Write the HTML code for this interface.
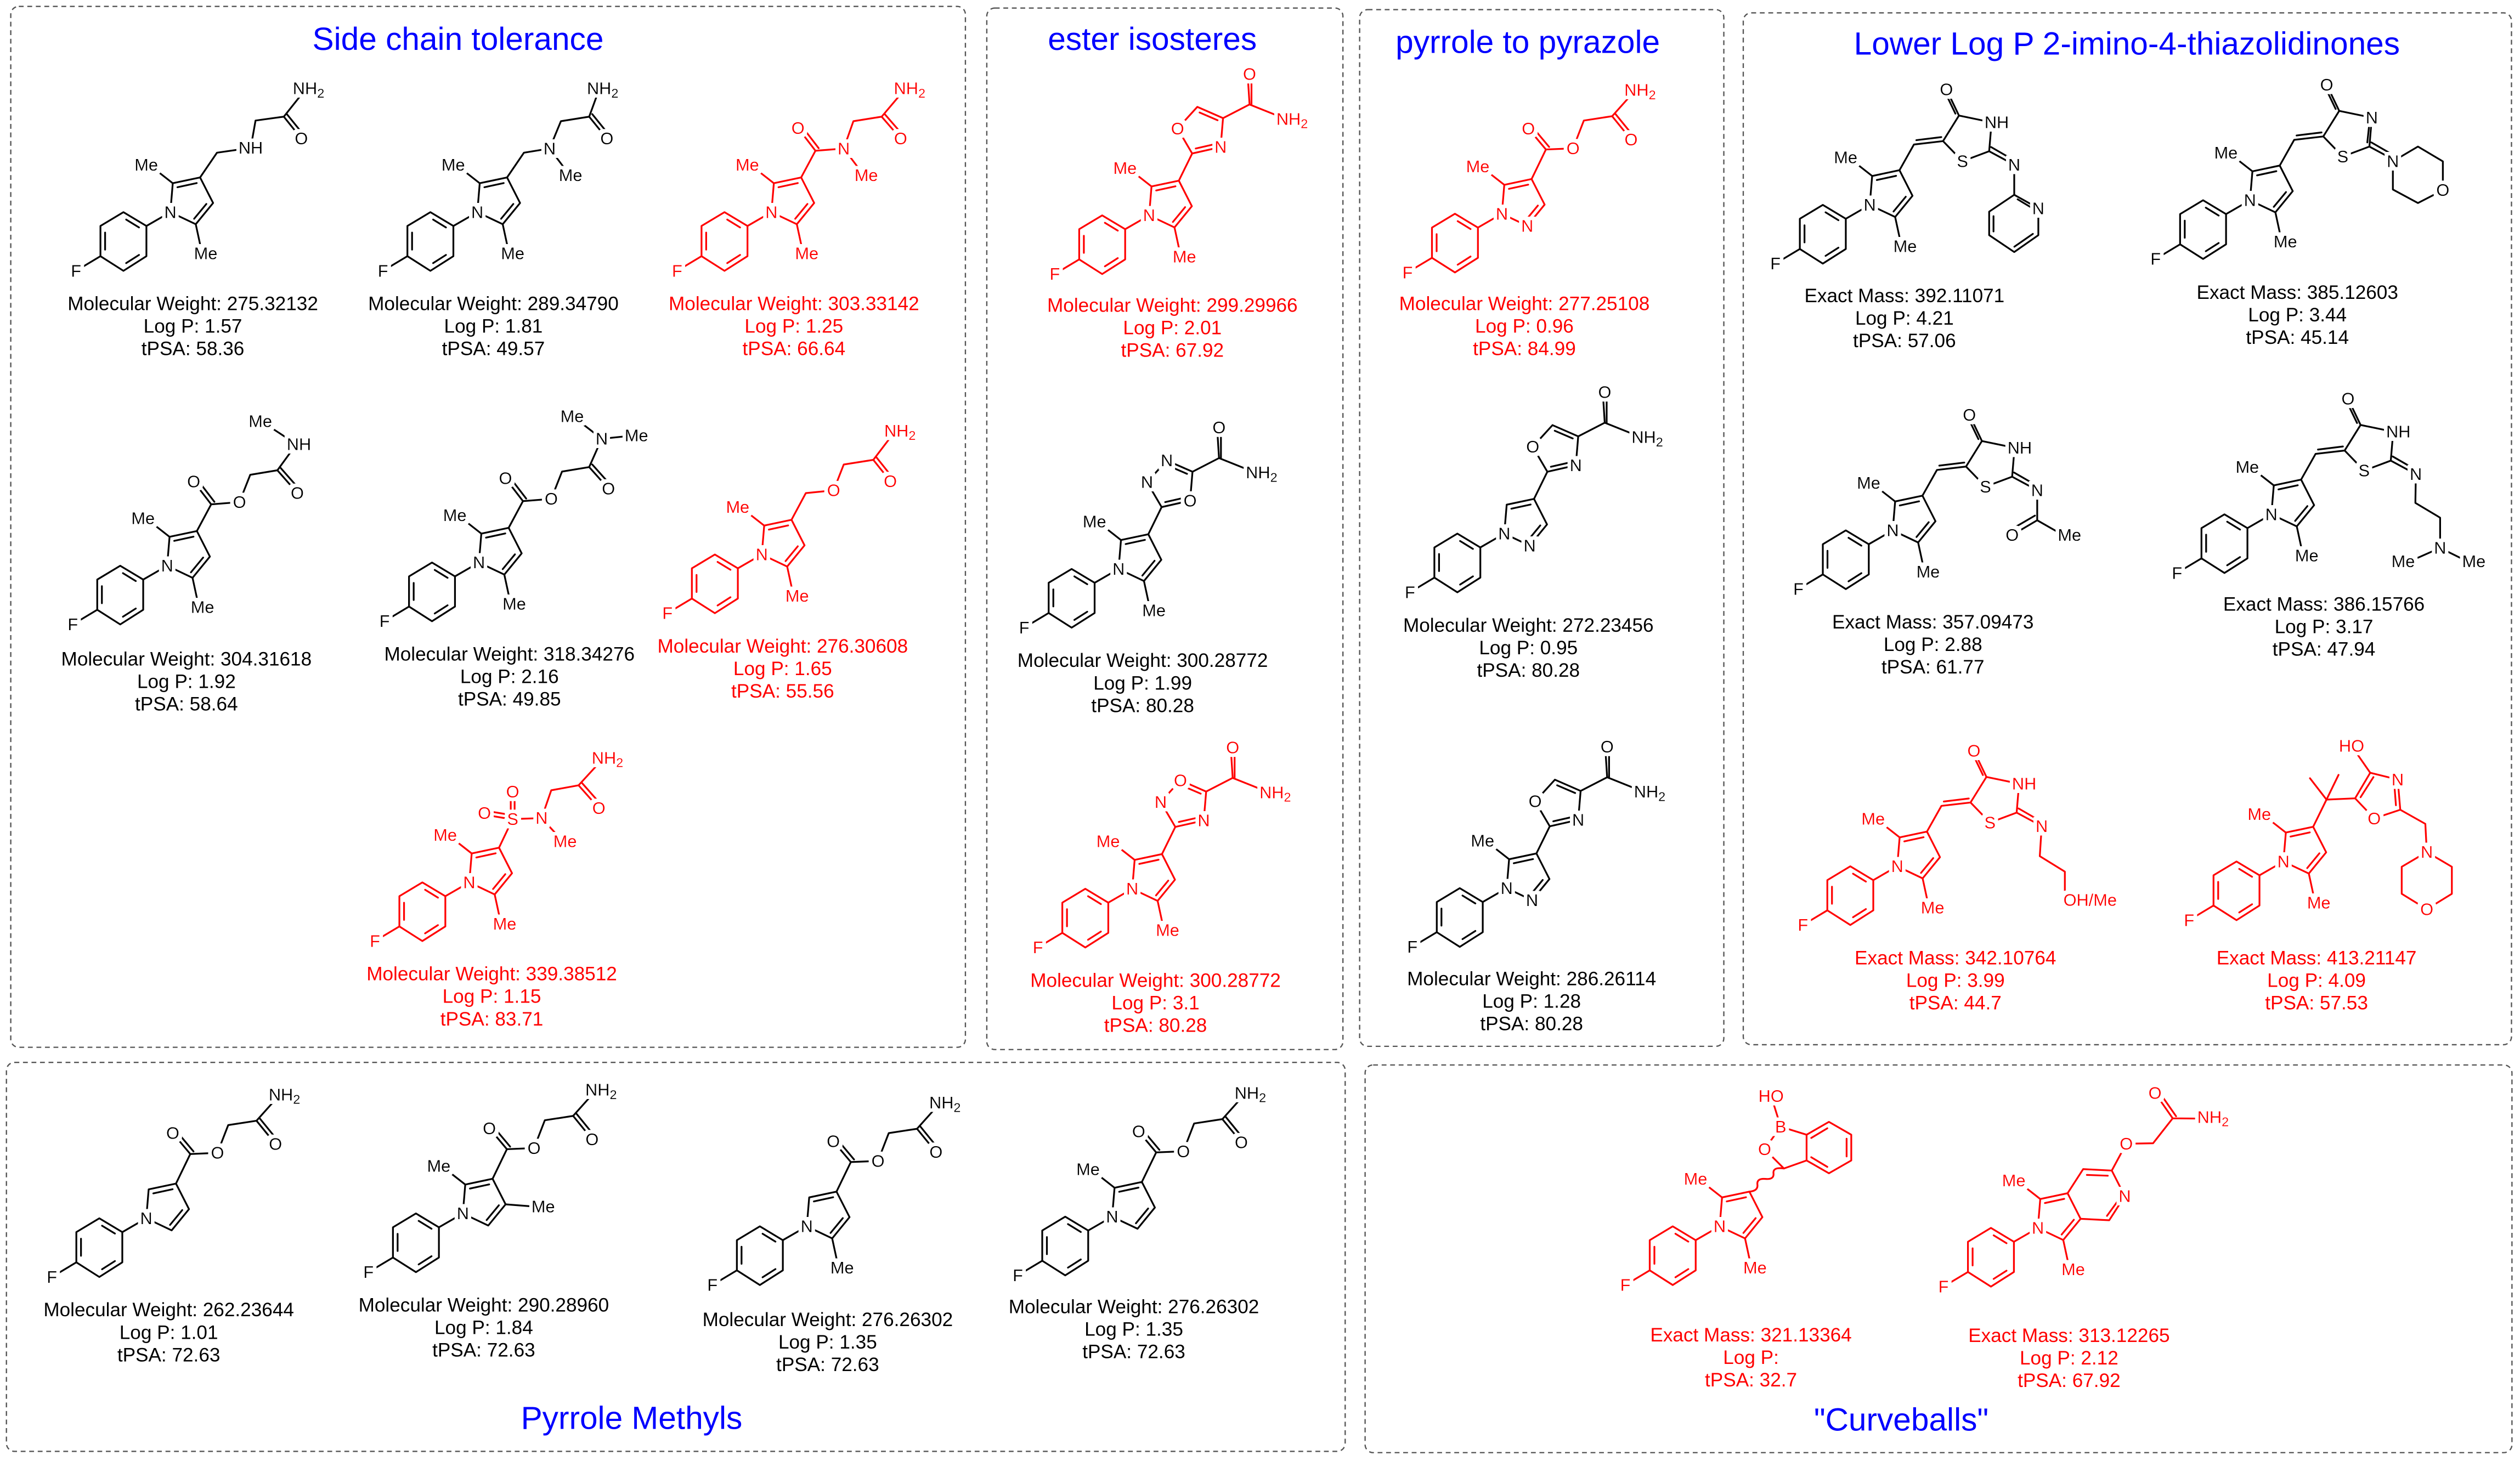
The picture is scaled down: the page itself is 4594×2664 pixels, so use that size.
<!DOCTYPE html>
<html><head><meta charset="utf-8">
<style>
html,body{margin:0;padding:0;background:#fff}
svg{display:block}
svg text{font-family:"Liberation Sans",Arial,sans-serif}
.ln{stroke:currentColor;fill:none;stroke-width:1.1;stroke-linejoin:round;stroke-linecap:round}
.l{font-size:10.5px;fill:currentColor;text-anchor:middle;dominant-baseline:central;filter:url(#bg)}
.d{font-size:12px;fill:currentColor;text-anchor:middle}
.t{font-size:20px;fill:#0000ff;text-anchor:middle}
.bx{fill:none;stroke:#555;stroke-width:0.8;stroke-dasharray:3 2.3}
.k{color:#000}.r{color:#ff0000}
</style></head><body>
<svg width="4594" height="2664" viewBox="0 0 1568 909" preserveAspectRatio="none" xmlns="http://www.w3.org/2000/svg">
<defs>
<filter id="bg" x="-50%" y="-50%" width="200%" height="200%">
<feMorphology in="SourceAlpha" operator="dilate" radius="2.2" result="d"/>
<feFlood flood-color="#fff"/>
<feComposite in2="d" operator="in" result="w"/>
<feMerge><feMergeNode in="w"/><feMergeNode in="SourceGraphic"/></feMerge>
</filter>
<path id="pr" class="ln" d="M0,0 L1.5,-18 L18.5,-21.6 L26.6,-5.7 L15.8,7.5 Z M4.4,-15.5 L16.4,-18.1 M22.4,-5.1 L14.8,4.1 M0,0 L-14.9,8.6 M-14.9,8.6 L-29.2,0 L-43.5,8.6 L-43.5,27.4 L-29.2,36.5 L-14.9,27.4 Z M-19.5,9.5 L-27.5,4.6 M-40.6,12.7 L-40.6,23.3 M-27.5,31.7 L-19.5,26.6 M-43.5,27.4 L-58.7,36.5"/>
<path id="m2" class="ln" d="M1.5,-18 L-10,-27"/>
<path id="m5" class="ln" d="M15.8,7.5 L18.5,20"/>
<path id="m4" class="ln" d="M26.6,-5.7 L42,-4.5"/>
<path id="esN" class="ln" d="M18.5,-21.6 L27.4,-40 L44.3,-40.7 L51,-58 L68.6,-60.7 L82.3,-76 M27.4,-40 L16.5,-53 M29.4,-41.6 L18.5,-54.6 M68.6,-60.7 L80.4,-46.2 M70.5,-62.3 L82.3,-47.8"/>
<path id="ox" class="ln" d="M18.5,-21.6 L26.8,-38.5 M26.8,-38.5 L17.7,-54 L30,-67.5 L46,-60.5 L44.5,-42.5 Z M31.4,-64 L42.6,-59.2 M41.3,-44.4 L29,-41.6 M46,-60.5 L62.5,-69 L61.3,-88 M63.7,-69 L63.7,-88 M62.5,-69 L85,-60"/>
<path id="thz" class="ln" d="M18.5,-21.6 L27.5,-37.6 L45.6,-39.7 L55.5,-55.6 L75.8,-51.4 L74.3,-33.4 L57.7,-27.2 L45.6,-39.7 M29,-40.3 L44.5,-42.2 M55.5,-55.6 L47.7,-71.9 M53.3,-56.8 L45.5,-73 M74.3,-33.4 L89.9,-25 M75.5,-36 L88.5,-28.5"/>
</defs>

<rect class="bx" x="6.7" y="4" width="594" height="647.6" rx="5"/>
<rect class="bx" x="614" y="5" width="221.6" height="648" rx="5"/>
<rect class="bx" x="846" y="6" width="226.6" height="645" rx="5"/>
<rect class="bx" x="1084.7" y="8" width="478" height="642" rx="5"/>
<rect class="bx" x="4" y="661" width="833" height="242" rx="5"/>
<rect class="bx" x="849.4" y="662.6" width="713.6" height="241.2" rx="5"/>

<text class="t" x="285" y="31">Side chain tolerance</text>
<text class="t" x="717" y="31">ester isosteres</text>
<text class="t" x="950.6" y="33">pyrrole to pyrazole</text>
<text class="t" x="1323.4" y="34">Lower Log P 2-imino-4-thiazolidinones</text>
<text class="t" x="393" y="889">Pyrrole Methyls</text>
<text class="t" x="1183" y="890">"Curveballs"</text>

<g class="k" transform="translate(106,132)">
<use href="#pr"/><use href="#m2"/><use href="#m5"/>
<path class="ln" d="M18.5,-21.6 L29,-37 L50,-40 L53,-57 L70.6,-59.4 L83.5,-75.6 M70.6,-59.4 L81.5,-45.8 M72.5,-61 L83.4,-47.5"/>
<text class="l" x="-15" y="-29.5">Me</text><text class="l" x="22" y="25.7">Me</text><text class="l" x="-58.7" y="36.5">F</text><text class="l" x="0" y="0">N</text>
<text class="l" x="50" y="-40">NH</text><text class="l" x="81.5" y="-45.8">O</text><text class="l" x="86" y="-77">NH<tspan font-size="8" dy="3">2</tspan></text>
</g>
<g class="k"><text class="d" x="120" y="193">Molecular Weight: 275.32132</text><text class="d" x="120" y="207">Log P: 1.57</text><text class="d" x="120" y="221">tPSA: 58.36</text></g>

<g class="k" transform="translate(297,132)">
<use href="#pr"/><use href="#m2"/><use href="#m5"/>
<path class="ln" d="M18.5,-21.6 L29,-37 L45,-39.6 L52,-56.6 L69.6,-59.4 L75.5,-75.6 M69.6,-59.4 L80.6,-45.8 M71.5,-61 L82.5,-47.4 M45,-39.6 L56,-25"/>
<text class="l" x="-15" y="-29.5">Me</text><text class="l" x="22" y="25.7">Me</text><text class="l" x="-58.7" y="36.5">F</text><text class="l" x="0" y="0">N</text>
<text class="l" x="45" y="-39.6">N</text><text class="l" x="58" y="-23">Me</text><text class="l" x="80.6" y="-45.8">O</text><text class="l" x="78" y="-77">NH<tspan font-size="8" dy="3">2</tspan></text>
</g>
<g class="k"><text class="d" x="307" y="193">Molecular Weight: 289.34790</text><text class="d" x="307" y="207">Log P: 1.81</text><text class="d" x="307" y="221">tPSA: 49.57</text></g>

<g class="r" transform="translate(480,132)">
<use href="#pr"/><use href="#m2"/><use href="#m5"/>
<path class="ln" d="M18.5,-21.6 L27.4,-38.2 L45,-39.6 L51,-56.6 L68.6,-59.4 L82.3,-75.6 M27.4,-38.2 L16.5,-52.4 M29.4,-39.8 L18.5,-54 M68.6,-59.4 L80.4,-45.8 M70.5,-61 L82.3,-47.4 M45,-39.6 L56,-25"/>
<text class="l" x="-15" y="-29.5">Me</text><text class="l" x="22" y="25.7">Me</text><text class="l" x="-58.7" y="36.5">F</text><text class="l" x="0" y="0">N</text>
<text class="l" x="16.5" y="-52.4">O</text><text class="l" x="45" y="-39.6">N</text><text class="l" x="59" y="-23">Me</text><text class="l" x="80.4" y="-45.8">O</text><text class="l" x="86" y="-77">NH<tspan font-size="8" dy="3">2</tspan></text>
</g>
<g class="r"><text class="d" x="494" y="193">Molecular Weight: 303.33142</text><text class="d" x="494" y="207">Log P: 1.25</text><text class="d" x="494" y="221">tPSA: 66.64</text></g>

<g class="k" transform="translate(104,352)">
<use href="#pr"/><use href="#m2"/><use href="#m5"/>
<path class="ln" d="M18.5,-21.6 L27.4,-38.2 L45,-39.6 L51.7,-56.6 L68.6,-59.4 L80.4,-75.6 L60,-89 M27.4,-38.2 L16.5,-52.4 M29.4,-39.8 L18.5,-54 M68.6,-59.4 L81,-45.3 M70.5,-61 L82.9,-46.9"/>
<text class="l" x="-15" y="-29.5">Me</text><text class="l" x="22" y="25.7">Me</text><text class="l" x="-58.7" y="36.5">F</text><text class="l" x="0" y="0">N</text>
<text class="l" x="16.5" y="-52.4">O</text><text class="l" x="45" y="-39.6">O</text><text class="l" x="81" y="-45.3">O</text><text class="l" x="82" y="-75.6">NH</text><text class="l" x="58" y="-90">Me</text>
</g>
<g class="k"><text class="d" x="116" y="414">Molecular Weight: 304.31618</text><text class="d" x="116" y="428">Log P: 1.92</text><text class="d" x="116" y="442">tPSA: 58.64</text></g>

<g class="k" transform="translate(298,350)">
<use href="#pr"/><use href="#m2"/><use href="#m5"/>
<path class="ln" d="M18.5,-21.6 L27.4,-38.2 L45,-39.6 L51.7,-56.6 L68.6,-59.4 L76.4,-77 L59,-90.5 M76.4,-77 L96,-79 M27.4,-38.2 L16.5,-52.4 M29.4,-39.8 L18.5,-54 M68.6,-59.4 L80.6,-46 M70.5,-61 L82.5,-47.6"/>
<text class="l" x="-15" y="-29.5">Me</text><text class="l" x="22" y="25.7">Me</text><text class="l" x="-58.7" y="36.5">F</text><text class="l" x="0" y="0">N</text>
<text class="l" x="16.5" y="-52.4">O</text><text class="l" x="45" y="-39.6">O</text><text class="l" x="80.6" y="-46">O</text><text class="l" x="76.4" y="-77">N</text><text class="l" x="58" y="-91">Me</text><text class="l" x="98" y="-79">Me</text>
</g>
<g class="k"><text class="d" x="317" y="411">Molecular Weight: 318.34276</text><text class="d" x="317" y="425">Log P: 2.16</text><text class="d" x="317" y="439">tPSA: 49.85</text></g>

<g class="r" transform="translate(474,345)">
<use href="#pr"/><use href="#m2"/><use href="#m5"/>
<path class="ln" d="M18.5,-21.6 L27.4,-38.2 L44.7,-39.9 L51,-56 L69.4,-58.9 L82.3,-75.8 M69.4,-58.9 L80,-45.6 M71.3,-60.5 L81.9,-47.2"/>
<text class="l" x="-15" y="-29.5">Me</text><text class="l" x="22" y="25.7">Me</text><text class="l" x="-58.7" y="36.5">F</text><text class="l" x="0" y="0">N</text>
<text class="l" x="44.7" y="-39.9">O</text><text class="l" x="80" y="-45.6">O</text><text class="l" x="86" y="-77">NH<tspan font-size="8" dy="3">2</tspan></text>
</g>
<g class="r"><text class="d" x="487" y="406">Molecular Weight: 276.30608</text><text class="d" x="487" y="420">Log P: 1.65</text><text class="d" x="487" y="434">tPSA: 55.56</text></g>

<g class="r" transform="translate(292,549)">
<use href="#pr"/><use href="#m2"/><use href="#m5"/>
<path class="ln" d="M18.5,-21.6 L27,-39.4 L45,-40 L51,-57.3 L68,-60.4 L82.7,-76.4 M68,-60.4 L80.6,-46.2 M70,-62 L82.5,-47.8 M25.8,-44 L25.8,-53 M28.2,-44 L28.2,-53 M22,-40 L13,-41.5 M22,-42.6 L13,-44.1 M45,-40 L56,-28"/>
<text class="l" x="-15" y="-29.5">Me</text><text class="l" x="22" y="25.7">Me</text><text class="l" x="-58.7" y="36.5">F</text><text class="l" x="0" y="0">N</text>
<text class="l" x="27" y="-39.4">S</text><text class="l" x="27" y="-56.4">O</text><text class="l" x="9.4" y="-43.1">O</text><text class="l" x="45" y="-40">N</text><text class="l" x="59.6" y="-25.6">Me</text><text class="l" x="80.6" y="-46.2">O</text><text class="l" x="86" y="-77.5">NH<tspan font-size="8" dy="3">2</tspan></text>
</g>
<g class="r"><text class="d" x="306" y="610">Molecular Weight: 339.38512</text><text class="d" x="306" y="624">Log P: 1.15</text><text class="d" x="306" y="638">tPSA: 83.71</text></g>

<g class="k" transform="translate(91,758)">
<use href="#pr"/><use href="#esN"/>
<text class="l" x="-58.7" y="36.5">F</text><text class="l" x="0" y="0">N</text>
<text class="l" x="16.5" y="-53">O</text><text class="l" x="44.3" y="-40.7">O</text><text class="l" x="80.4" y="-46.2">O</text><text class="l" x="86" y="-77">NH<tspan font-size="8" dy="3">2</tspan></text>
</g>
<g class="k"><text class="d" x="105" y="819">Molecular Weight: 262.23644</text><text class="d" x="105" y="833">Log P: 1.01</text><text class="d" x="105" y="847">tPSA: 72.63</text></g>

<g class="k" transform="translate(288,755)">
<use href="#pr"/><use href="#m2"/><use href="#m4"/><use href="#esN"/>
<text class="l" x="-15" y="-29.5">Me</text><text class="l" x="50" y="-4.3">Me</text><text class="l" x="-58.7" y="36.5">F</text><text class="l" x="0" y="0">N</text>
<text class="l" x="16.5" y="-53">O</text><text class="l" x="44.3" y="-40.7">O</text><text class="l" x="80.4" y="-46.2">O</text><text class="l" x="86" y="-77">NH<tspan font-size="8" dy="3">2</tspan></text>
</g>
<g class="k"><text class="d" x="301" y="816">Molecular Weight: 290.28960</text><text class="d" x="301" y="830">Log P: 1.84</text><text class="d" x="301" y="844">tPSA: 72.63</text></g>

<g class="k" transform="translate(502,763)">
<use href="#pr"/><use href="#m5"/><use href="#esN"/>
<text class="l" x="22" y="25.7">Me</text><text class="l" x="-58.7" y="36.5">F</text><text class="l" x="0" y="0">N</text>
<text class="l" x="16.5" y="-53">O</text><text class="l" x="44.3" y="-40.7">O</text><text class="l" x="80.4" y="-46.2">O</text><text class="l" x="86" y="-77">NH<tspan font-size="8" dy="3">2</tspan></text>
</g>
<g class="k"><text class="d" x="515" y="825">Molecular Weight: 276.26302</text><text class="d" x="515" y="839">Log P: 1.35</text><text class="d" x="515" y="853">tPSA: 72.63</text></g>

<g class="k" transform="translate(692,757)">
<use href="#pr"/><use href="#m2"/><use href="#esN"/>
<text class="l" x="-15" y="-29.5">Me</text><text class="l" x="-58.7" y="36.5">F</text><text class="l" x="0" y="0">N</text>
<text class="l" x="16.5" y="-53">O</text><text class="l" x="44.3" y="-40.7">O</text><text class="l" x="80.4" y="-46.2">O</text><text class="l" x="86" y="-77">NH<tspan font-size="8" dy="3">2</tspan></text>
</g>
<g class="k"><text class="d" x="705.5" y="817">Molecular Weight: 276.26302</text><text class="d" x="705.5" y="831">Log P: 1.35</text><text class="d" x="705.5" y="845">tPSA: 72.63</text></g>

<g class="r" transform="translate(715,134)">
<use href="#pr"/><use href="#m2"/><use href="#m5"/><use href="#ox"/>
<text class="l" x="-15" y="-29.5">Me</text><text class="l" x="22" y="25.7">Me</text><text class="l" x="-58.7" y="36.5">F</text><text class="l" x="0" y="0">N</text>
<text class="l" x="17.7" y="-54">O</text><text class="l" x="44.5" y="-42.5">N</text><text class="l" x="62.5" y="-88">O</text><text class="l" x="89" y="-60">NH<tspan font-size="8" dy="3">2</tspan></text>
</g>
<g class="r"><text class="d" x="729.5" y="194">Molecular Weight: 299.29966</text><text class="d" x="729.5" y="208">Log P: 2.01</text><text class="d" x="729.5" y="222">tPSA: 67.92</text></g>

<g class="k" transform="translate(696,354)">
<use href="#pr"/><use href="#m2"/><use href="#m5"/><use href="#ox"/>
<text class="l" x="-15" y="-29.5">Me</text><text class="l" x="22" y="25.7">Me</text><text class="l" x="-58.7" y="36.5">F</text><text class="l" x="0" y="0">N</text>
<text class="l" x="17.7" y="-54">N</text><text class="l" x="30" y="-67.5">N</text><text class="l" x="44.5" y="-42.5">O</text><text class="l" x="62.5" y="-88">O</text><text class="l" x="89" y="-60">NH<tspan font-size="8" dy="3">2</tspan></text>
</g>
<g class="k"><text class="d" x="711" y="415">Molecular Weight: 300.28772</text><text class="d" x="711" y="429">Log P: 1.99</text><text class="d" x="711" y="443">tPSA: 80.28</text></g>

<g class="r" transform="translate(704.5,553)">
<use href="#pr"/><use href="#m2"/><use href="#m5"/><use href="#ox"/>
<text class="l" x="-15" y="-29.5">Me</text><text class="l" x="22" y="25.7">Me</text><text class="l" x="-58.7" y="36.5">F</text><text class="l" x="0" y="0">N</text>
<text class="l" x="17.7" y="-54">N</text><text class="l" x="30" y="-67.5">O</text><text class="l" x="44.5" y="-42.5">N</text><text class="l" x="62.5" y="-88">O</text><text class="l" x="89" y="-60">NH<tspan font-size="8" dy="3">2</tspan></text>
</g>
<g class="r"><text class="d" x="719" y="614">Molecular Weight: 300.28772</text><text class="d" x="719" y="628">Log P: 3.1</text><text class="d" x="719" y="642">tPSA: 80.28</text></g>

<g class="r" transform="translate(934.5,133)">
<use href="#pr"/><use href="#m2"/><use href="#esN"/>
<text class="l" x="-15" y="-29.5">Me</text><text class="l" x="-58.7" y="36.5">F</text><text class="l" x="0" y="0">N</text><text class="l" x="15.8" y="7.5">N</text>
<text class="l" x="16.5" y="-53">O</text><text class="l" x="44.3" y="-40.7">O</text><text class="l" x="80.4" y="-46.2">O</text><text class="l" x="86" y="-77">NH<tspan font-size="8" dy="3">2</tspan></text>
</g>
<g class="r"><text class="d" x="948.5" y="193">Molecular Weight: 277.25108</text><text class="d" x="948.5" y="207">Log P: 0.96</text><text class="d" x="948.5" y="221">tPSA: 84.99</text></g>

<g class="k" transform="translate(936,332)">
<use href="#pr"/><use href="#ox"/>
<text class="l" x="-58.7" y="36.5">F</text><text class="l" x="0" y="0">N</text><text class="l" x="15.8" y="7.5">N</text>
<text class="l" x="17.7" y="-54">O</text><text class="l" x="44.5" y="-42.5">N</text><text class="l" x="62.5" y="-88">O</text><text class="l" x="89" y="-60">NH<tspan font-size="8" dy="3">2</tspan></text>
</g>
<g class="k"><text class="d" x="951" y="393">Molecular Weight: 272.23456</text><text class="d" x="951" y="407">Log P: 0.95</text><text class="d" x="951" y="421">tPSA: 80.28</text></g>

<g class="k" transform="translate(937.5,552.6)">
<use href="#pr"/><use href="#m2"/><use href="#ox"/>
<text class="l" x="-15" y="-29.5">Me</text><text class="l" x="-58.7" y="36.5">F</text><text class="l" x="0" y="0">N</text><text class="l" x="15.8" y="7.5">N</text>
<text class="l" x="17.7" y="-54">O</text><text class="l" x="44.5" y="-42.5">N</text><text class="l" x="62.5" y="-88">O</text><text class="l" x="89" y="-60">NH<tspan font-size="8" dy="3">2</tspan></text>
</g>
<g class="k"><text class="d" x="953" y="613">Molecular Weight: 286.26114</text><text class="d" x="953" y="627">Log P: 1.28</text><text class="d" x="953" y="641">tPSA: 80.28</text></g>

<g class="k" transform="translate(1163.4,127.5)">
<use href="#pr"/><use href="#m2"/><use href="#m5"/><use href="#thz"/>
<path class="ln" d="M89.9,-25 L89.9,-6.3 M89.9,-6.3 L104.9,2.1 L104.9,18.8 L89.9,29.3 L74.3,18.8 L74.3,4.2 Z M77,7 L77,16.5 M90,26 L101.5,18 M92,-3.5 L102,2.5"/>
<text class="l" x="-15" y="-29.5">Me</text><text class="l" x="22" y="25.7">Me</text><text class="l" x="-58.7" y="36.5">F</text><text class="l" x="0" y="0">N</text>
<text class="l" x="47.7" y="-71.9">O</text><text class="l" x="79" y="-51.4">NH</text><text class="l" x="57.7" y="-27.2">S</text><text class="l" x="89.9" y="-25">N</text><text class="l" x="104.9" y="2.1">N</text>
</g>
<g class="k"><text class="d" x="1185" y="188">Exact Mass: 392.11071</text><text class="d" x="1185" y="202">Log P: 4.21</text><text class="d" x="1185" y="216">tPSA: 57.06</text></g>

<g class="k" transform="translate(1400,124.6)">
<use href="#pr"/><use href="#m2"/><use href="#m5"/><use href="#thz"/>
<path class="ln" d="M88.9,-24.2 L104.5,-33.4 L120,-24.2 L120,-6.3 L104.5,1.7 L88.9,-6.7 Z M73,-36 L74.5,-50"/>
<text class="l" x="-15" y="-29.5">Me</text><text class="l" x="22" y="25.7">Me</text><text class="l" x="-58.7" y="36.5">F</text><text class="l" x="0" y="0">N</text>
<text class="l" x="47.7" y="-71.9">O</text><text class="l" x="75.8" y="-51.4">N</text><text class="l" x="57.7" y="-27.2">S</text><text class="l" x="88.9" y="-24.2">N</text><text class="l" x="120" y="-6.3">O</text>
</g>
<g class="k"><text class="d" x="1429.5" y="186">Exact Mass: 385.12603</text><text class="d" x="1429.5" y="200">Log P: 3.44</text><text class="d" x="1429.5" y="214">tPSA: 45.14</text></g>

<g class="k" transform="translate(1177.7,330)">
<use href="#pr"/><use href="#m2"/><use href="#m5"/><use href="#thz"/>
<path class="ln" d="M89.9,-25 L89.9,-6.3 L74.3,2.9 M89.9,-6.3 L106,2.9 M88.5,-9.2 L73,-0.2"/>
<text class="l" x="-15" y="-29.5">Me</text><text class="l" x="22" y="25.7">Me</text><text class="l" x="-58.7" y="36.5">F</text><text class="l" x="0" y="0">N</text>
<text class="l" x="47.7" y="-71.9">O</text><text class="l" x="79" y="-51.4">NH</text><text class="l" x="57.7" y="-27.2">S</text><text class="l" x="89.9" y="-25">N</text><text class="l" x="74.3" y="2.9">O</text><text class="l" x="110" y="2.9">Me</text>
</g>
<g class="k"><text class="d" x="1202.7" y="391">Exact Mass: 357.09473</text><text class="d" x="1202.7" y="405">Log P: 2.88</text><text class="d" x="1202.7" y="419">tPSA: 61.77</text></g>

<g class="k" transform="translate(1413.3,320)">
<use href="#pr"/><use href="#m2"/><use href="#m5"/><use href="#thz"/>
<path class="ln" d="M89.9,-25 L89.6,-7.1 L105,2.1 L105,20.9 L86,29.3 M105,20.9 L122,29.3"/>
<text class="l" x="-15" y="-29.5">Me</text><text class="l" x="22" y="25.7">Me</text><text class="l" x="-58.7" y="36.5">F</text><text class="l" x="0" y="0">N</text>
<text class="l" x="47.7" y="-71.9">O</text><text class="l" x="79" y="-51.4">NH</text><text class="l" x="57.7" y="-27.2">S</text><text class="l" x="89.9" y="-25">N</text><text class="l" x="105" y="20.9">N</text><text class="l" x="82" y="29.3">Me</text><text class="l" x="126" y="29.3">Me</text>
</g>
<g class="k"><text class="d" x="1446" y="380">Exact Mass: 386.15766</text><text class="d" x="1446" y="394">Log P: 3.17</text><text class="d" x="1446" y="408">tPSA: 47.94</text></g>

<g class="r" transform="translate(1180.5,539)">
<use href="#pr"/><use href="#m2"/><use href="#m5"/><use href="#thz"/>
<path class="ln" d="M89.9,-25 L88.7,-6.3 L104.3,3.3 L104.3,18"/>
<text class="l" x="-15" y="-29.5">Me</text><text class="l" x="22" y="25.7">Me</text><text class="l" x="-58.7" y="36.5">F</text><text class="l" x="0" y="0">N</text>
<text class="l" x="47.7" y="-71.9">O</text><text class="l" x="79" y="-51.4">NH</text><text class="l" x="57.7" y="-27.2">S</text><text class="l" x="89.9" y="-25">N</text><text class="l" x="120" y="21">OH/Me</text>
</g>
<g class="r"><text class="d" x="1216.7" y="600">Exact Mass: 342.10764</text><text class="d" x="1216.7" y="614">Log P: 3.99</text><text class="d" x="1216.7" y="628">tPSA: 44.7</text></g>

<g class="r" transform="translate(1420.8,536)">
<use href="#pr"/><use href="#m2"/><use href="#m5"/>
<path class="ln" d="M18.5,-21.6 L26.8,-38.5 L16.5,-51.8 M26.8,-38.5 L34.3,-53.9 M26.8,-38.5 L44.6,-39.3 L54,-55.2 L71.1,-51 L72.7,-32.2 L56.5,-26.8 L44.6,-39.3 M48,-40 L56,-52.5 M69,-48 L70,-35 M54,-55.2 L42.4,-71.9 M72.7,-32.2 L88.3,-23.4 L89.2,-5.9 L104.8,3.3 L104.8,20.1 L89.2,29.7 L73.6,20.1 L73.6,3.3 L89.2,-5.9"/>
<text class="l" x="-15" y="-29.5">Me</text><text class="l" x="22" y="25.7">Me</text><text class="l" x="-58.7" y="36.5">F</text><text class="l" x="0" y="0">N</text>
<text class="l" x="42.4" y="-71.9">HO</text><text class="l" x="71.1" y="-51">N</text><text class="l" x="56.5" y="-26.8">O</text><text class="l" x="89.2" y="-5.9">N</text><text class="l" x="89.2" y="29.7">O</text>
</g>
<g class="r"><text class="d" x="1441.4" y="600">Exact Mass: 413.21147</text><text class="d" x="1441.4" y="614">Log P: 4.09</text><text class="d" x="1441.4" y="628">tPSA: 57.53</text></g>

<g class="r" transform="translate(1070,763)">
<use href="#pr"/><use href="#m2"/><use href="#m5"/>
<path class="ln" d="M18.5,-21.6 Q24,-22 23.5,-26 Q23,-30 28.5,-29.5 Q34,-29 33.5,-33 Q33,-37 40,-36 M40,-36 L28,-48 L38,-62 L54.1,-57 L54.1,-41 L40,-36 M54.1,-41 L54.1,-57 L68,-65 L81.9,-57 L81.9,-41 L68,-33 Z M57,-55 L67,-61 M79,-54.5 L79,-43.5 M57,-43 L67,-37 M38,-62 L33,-78"/>
<text class="l" x="-15" y="-29.5">Me</text><text class="l" x="22" y="25.7">Me</text><text class="l" x="-58.7" y="36.5">F</text><text class="l" x="0" y="0">N</text>
<text class="l" x="28" y="-48">O</text><text class="l" x="38" y="-62">B</text><text class="l" x="32" y="-81">HO</text>
</g>
<g class="r"><text class="d" x="1089.5" y="834.6">Exact Mass: 321.13364</text><text class="d" x="1089.5" y="848.6">Log P:</text><text class="d" x="1089.5" y="862.6">tPSA: 32.7</text></g>

<g class="r" transform="translate(1268,764)">
<use href="#pr"/><use href="#m2"/><use href="#m5"/>
<path class="ln" d="M18.5,-21.6 L28.2,-36.6 L46,-35.7 L54.1,-19.8 L44.4,-4.8 L26.6,-5.7 M30.5,-33 L43.5,-32.5 M51,-18.5 L43,-7.5 M46,-35.7 L55,-52.4 L71.7,-52.7 L83.9,-68.2 L72.9,-84 M86,-69.5 L75,-85.3 M83.9,-68.2 L105,-68"/>
<text class="l" x="-15" y="-29.5">Me</text><text class="l" x="22" y="25.7">Me</text><text class="l" x="-58.7" y="36.5">F</text><text class="l" x="0" y="0">N</text>
<text class="l" x="54.1" y="-19.8">N</text><text class="l" x="55" y="-52.4">O</text><text class="l" x="72.9" y="-84">O</text><text class="l" x="109" y="-69">NH<tspan font-size="8" dy="3">2</tspan></text>
</g>
<g class="r"><text class="d" x="1287.4" y="835">Exact Mass: 313.12265</text><text class="d" x="1287.4" y="849">Log P: 2.12</text><text class="d" x="1287.4" y="863">tPSA: 67.92</text></g>
</svg>
</body></html>
